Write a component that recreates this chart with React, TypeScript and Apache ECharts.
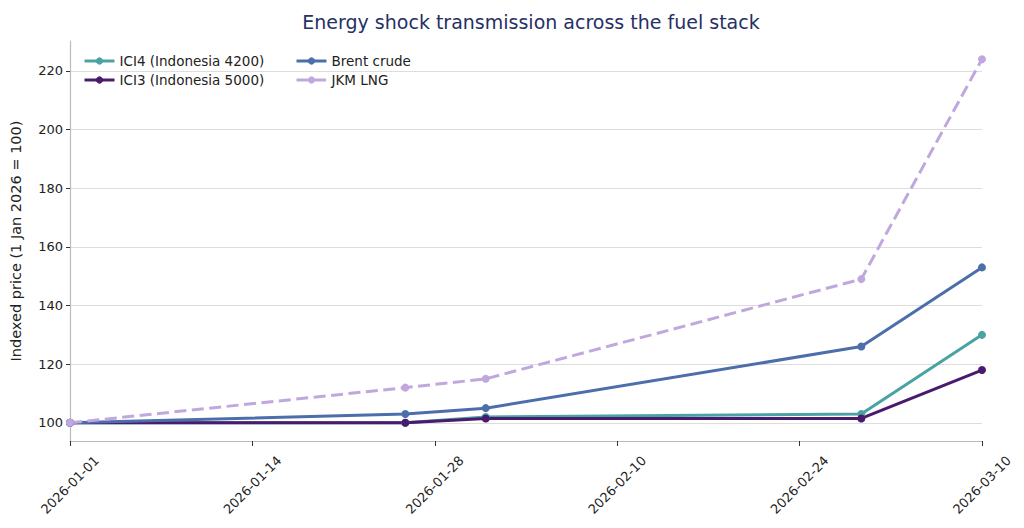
import React, { useEffect, useRef } from "react";
import * as echarts from "echarts";

const dates = ["2026-01-01", "2026-01-26", "2026-02-01", "2026-03-01", "2026-03-10"];
const ici4 = [100, 100, 102, 103, 130];
const ici3 = [100, 100, 101.5, 101.5, 118];
const brent = [100, 103, 105, 126, 153];
const jkm = [100, 112, 115, 149, 224];
const xTickLabels = ["2026-01-01", "2026-01-14", "2026-01-28", "2026-02-10", "2026-02-24", "2026-03-10"];
const yTicks = [100, 120, 140, 160, 180, 200, 220];

const DAY = 86400000;
const toTs = (s: string) => {
  const [y, m, d] = s.split("-").map(Number);
  return Date.UTC(y, m - 1, d);
};
const BASE = toTs(dates[0]);
const toDay = (s: string) => Math.round((toTs(s) - BASE) / DAY);
const fmt = (day: number) => {
  const d = new Date(BASE + Math.floor(day + 1e-6) * DAY);
  const p = (n: number) => String(n).padStart(2, "0");
  return `${d.getUTCFullYear()}-${p(d.getUTCMonth() + 1)}-${p(d.getUTCDate())}`;
};

const FONT = "DejaVu Sans";

export default function App() {
  const ref = useRef<HTMLDivElement>(null);
  useEffect(() => {
    if (!ref.current) return;
    const chart = echarts.init(ref.current, null, { renderer: "svg" });
    const mk = (name: string, vals: number[], color: string, dashed = false) => ({
      name,
      type: "line",
      data: dates.map((d, i) => [toDay(d), vals[i]]),
      symbol: "circle",
      symbolSize: 8,
      showSymbol: true,
      itemStyle: { color },
      lineStyle: { color, width: 3, type: dashed ? [12, 5.5] : "solid" },
      emphasis: { disabled: true },
    });
    const xMax = toDay(dates[dates.length - 1]);
    // matplotlib placed these ticks evenly across the date span
    const xt = xTickLabels.map((_, i) => (xMax * i) / (xTickLabels.length - 1));
    const labelFor = (v: number) => {
      const idx = xt.findIndex((t) => Math.abs(t - v) < 1e-6);
      return idx >= 0 ? xTickLabels[idx] : fmt(v);
    };
    const legendCommon = {
      orient: "vertical",
      top: 49,
      itemWidth: 30,
      itemHeight: 9,
      itemGap: 5,
      lineStyle: { width: 3 },
      textStyle: { fontFamily: FONT, fontSize: 13.5, color: "#222" },
    };
    chart.setOption({
      animation: false,
      title: {
        text: "Energy shock transmission across the fuel stack",
        left: 526,
        top: 7,
        textAlign: "center",
        textStyle: { fontFamily: FONT, fontSize: 19, fontWeight: "normal", color: "#262f66" },
      },
      legend: [
        { ...legendCommon, data: ["ICI4 (Indonesia 4200)", "ICI3 (Indonesia 5000)"], left: 78 },
        { ...legendCommon, data: ["Brent crude", "JKM LNG"], left: 290 },
      ],
      grid: { left: 70, right: 42, top: 41, bottom: 87, containLabel: false },
      xAxis: {
        type: "value",
        min: 0,
        max: xMax,
        axisLine: { lineStyle: { color: "#bbbbbb", width: 1.2 } },
        axisTick: { show: true, length: 5, lineStyle: { color: "#333" }, customValues: xt },
        axisLabel: {
          customValues: xt,
          rotate: 45,
          align: "center",
          verticalAlign: "middle",
          formatter: (v: number) => labelFor(v),
          fontFamily: FONT,
          fontSize: 13,
          color: "#222",
          margin: 44,
        },
        splitLine: { show: false },
      },
      yAxis: {
        type: "value",
        min: 93.8,
        max: 230.2,
        name: "Indexed price (1 Jan 2026 = 100)",
        nameLocation: "middle",
        nameGap: 47,
        nameTextStyle: { fontFamily: FONT, fontSize: 14.5, color: "#222" },
        axisLine: { show: true, lineStyle: { color: "#bbbbbb", width: 1.2 } },
        axisTick: { show: true, length: 4, lineStyle: { color: "#333" }, customValues: yTicks },
        axisLabel: {
          customValues: yTicks,
          fontFamily: FONT,
          fontSize: 13,
          color: "#222",
          margin: 7,
        },
        splitLine: { show: true, lineStyle: { color: "#dddddd", width: 1 } },
      },
      series: [
        mk("ICI4 (Indonesia 4200)", ici4, "#4aa3a3"),
        mk("ICI3 (Indonesia 5000)", ici3, "#4a1a6e"),
        mk("Brent crude", brent, "#4c6eaa"),
        mk("JKM LNG", jkm, "#c0a8de", true),
      ],
    });
    return () => chart.dispose();
  }, []);
  return (
    <div
      ref={ref}
      style={{ position: "absolute", left: 0, top: 0, width: 1024, height: 528 }}
    />
  );
}
